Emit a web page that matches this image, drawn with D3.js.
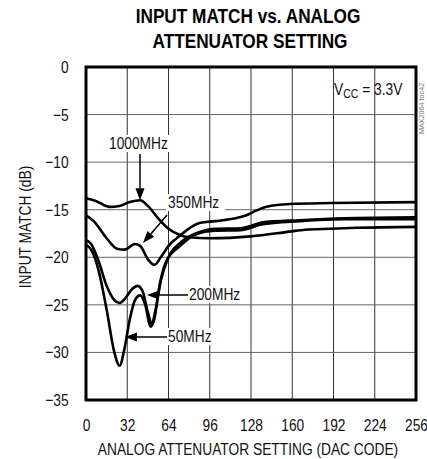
<!DOCTYPE html>
<html><head><meta charset="utf-8">
<script src="https://cdn.jsdelivr.net/npm/d3@7"></script>
<style>
body{margin:0;background:#fff;}
text{font-family:"Liberation Sans",Arial,sans-serif;}
</style></head>
<body><svg id="c" width="427" height="459"></svg>
<script>
const xTicks = [0, 32, 64, 96, 128, 160, 192, 224, 256];
const yTicks = [0, -5, -10, -15, -20, -25, -30, -35];

const codes1000 = [0, 8, 18, 26, 34, 42, 48, 56, 64, 72, 80, 96, 128, 158, 170, 190, 210, 256];
const vals1000  = [-13.8, -14.1, -14.7, -14.6, -14.2, -14.0, -14.6, -15.9, -17.0, -17.6, -17.9, -18.0, -17.8, -17.3, -17.1, -17.0, -16.9, -16.8];

const codes350 = [0, 6, 16, 24, 30, 38, 42, 48, 53, 58, 64, 73, 88, 100, 116, 124, 132, 140, 158, 190, 256];
const vals350  = [-15.6, -16.2, -18.0, -19.1, -19.2, -18.6, -18.8, -20.2, -20.8, -20.0, -18.8, -17.7, -16.4, -16.2, -15.9, -15.6, -15.1, -14.7, -14.4, -14.3, -14.2];

const codes200 = [0, 4, 10, 16, 22, 26, 30, 36, 40, 44, 48, 51, 54, 58, 64, 73, 85, 100, 120, 128, 136, 166, 200, 256];
const vals200  = [-18.2, -18.6, -20.5, -23.0, -24.5, -24.8, -24.4, -23.3, -23.0, -23.6, -25.8, -27.0, -25.5, -22.5, -20.0, -18.5, -17.5, -17.0, -16.95, -16.7, -16.35, -16.1, -15.9, -15.8];

const codes50 = [0, 4, 10, 16, 22, 26, 30, 34, 38, 42, 46, 50, 53, 57, 62, 73, 85, 100, 120, 128, 136, 166, 200, 256];
const vals50  = [-18.7, -19.2, -21.5, -25.5, -30.0, -31.4, -29.5, -26.5, -24.5, -24.0, -25.0, -27.3, -26.5, -23.0, -20.5, -18.8, -17.6, -17.2, -17.15, -16.9, -16.55, -16.2, -16.0, -16.0];

const seriesNames = ["1000MHz", "350MHz", "200MHz", "50MHz"];

const svg = d3.select("#c");
const L = 86, R = 416, T = 67, B = 400;
const SX = 0.81;
const x = d3.scaleLinear().domain([0, 256]).range([L, R]);
const y = d3.scaleLinear().domain([0, -35]).range([T, B]);

function txt(px, py, str, size, anchor, opts = {}) {
  const t = svg.append("text")
    .attr("transform", `translate(${px},${py})${opts.rot ? ` rotate(${opts.rot})` : ""} scale(${opts.sx || SX},1)`)
    .attr("text-anchor", anchor || "start").attr("font-size", size)
    .attr("fill", opts.fill || "#111").text(str);
  if (opts.bold) t.attr("font-weight", "bold");
  return t;
}

// title
txt(248, 23, "INPUT MATCH vs. ANALOG", 21, "middle", {bold: true, sx: 0.82, fill: "#000"});
txt(250, 48, "ATTENUATOR SETTING", 21, "middle", {bold: true, sx: 0.82, fill: "#000"});

// grid
const g = svg.append("g");
g.selectAll(".vg").data(xTicks.slice(1, -1)).enter().append("line")
  .attr("x1", d => x(d)).attr("x2", d => x(d)).attr("y1", T).attr("y2", B)
  .attr("stroke", "#333").attr("stroke-width", 1);
g.selectAll(".hg").data(yTicks.slice(1, -1)).enter().append("line")
  .attr("x1", L).attr("x2", R).attr("y1", d => y(d)).attr("y2", d => y(d))
  .attr("stroke", "#666").attr("stroke-width", 1);

// axes tick labels
const xa = svg.append("g").attr("transform", `translate(0,${B + 16})`)
  .call(d3.axisBottom(x).tickValues(xTicks).tickSize(0).tickFormat(d3.format("d")));
xa.select(".domain").remove();
xa.selectAll("text").attr("font-size", 17).attr("fill", "#111")
  .attr("font-family", "Liberation Sans, Arial, sans-serif")
  .attr("transform", `scale(${SX},1)`);
const ya = svg.append("g").attr("transform", `translate(${L - 15},0)`)
  .call(d3.axisLeft(y).tickValues(yTicks).tickSize(0).tickFormat(d3.format("d")));
ya.select(".domain").remove();
ya.selectAll("text").attr("font-size", 17).attr("fill", "#111")
  .attr("font-family", "Liberation Sans, Arial, sans-serif")
  .attr("transform", `scale(${SX},1)`);

txt(248, 455, "ANALOG ATTENUATOR SETTING (DAC CODE)", 17, "middle");
txt(31, 227, "INPUT MATCH (dB)", 17, "middle", {rot: -90});

// watermark
txt(424, 134, "MAX2064 toc42", 8, "start", {rot: -90, fill: "#777", sx: 0.9});

// curves
const line = d3.line().x(d => x(d[0])).y(d => y(d[1])).curve(d3.curveMonotoneX);
const all = [[codes1000, vals1000], [codes350, vals350], [codes200, vals200], [codes50, vals50]];
svg.append("g").selectAll("path").data(all).enter().append("path")
  .attr("d", d => line(d[0].map((c, i) => [c, d[1][i]])))
  .attr("fill", "none").attr("stroke", "#000").attr("stroke-width", 2.6)
  .attr("stroke-linejoin", "round");

// frame
svg.append("rect").attr("x", L).attr("y", T).attr("width", R - L).attr("height", B - T)
  .attr("fill", "none").attr("stroke", "#000").attr("stroke-width", 3);

// annotations
function label(str, tx, ty, w) {
  svg.append("rect").attr("x", tx - 2).attr("y", ty - 14).attr("width", w + 4).attr("height", 17).attr("fill", "#fff");
  txt(tx, ty, str, 17, "start");
}
function arrow(x1, y1, x2, y2) {
  const ang = Math.atan2(y2 - y1, x2 - x1), len = 12, hw = 4.5;
  const bx = x2 - len * Math.cos(ang), by = y2 - len * Math.sin(ang);
  svg.append("line").attr("x1", x1).attr("y1", y1).attr("x2", bx).attr("y2", by)
    .attr("stroke", "#000").attr("stroke-width", 1.5);
  const px = -Math.sin(ang) * hw, py = Math.cos(ang) * hw;
  svg.append("path").attr("d", `M${x2},${y2}L${bx + px},${by + py}L${bx - px},${by - py}Z`).attr("fill", "#000");
}
label(seriesNames[0], 109, 149, 61);
arrow(140, 154, 140, y(-14.0));
label(seriesNames[1], 168, 208, 55);
arrow(167, 215, 143, 243);
label(seriesNames[2], 189, 300, 55);
arrow(188, 295, 147, 295);
label(seriesNames[3], 168, 342, 47);
arrow(167, 337, 125, 337);

// VCC
const vt = svg.append("text").attr("transform", `translate(334,95) scale(${SX},1)`)
  .attr("font-size", 17).attr("fill", "#111");
vt.append("tspan").text("V");
vt.append("tspan").attr("font-size", 13).attr("dy", 3).text("CC");
vt.append("tspan").attr("dy", -3).text(" = 3.3V");
</script></body></html>
